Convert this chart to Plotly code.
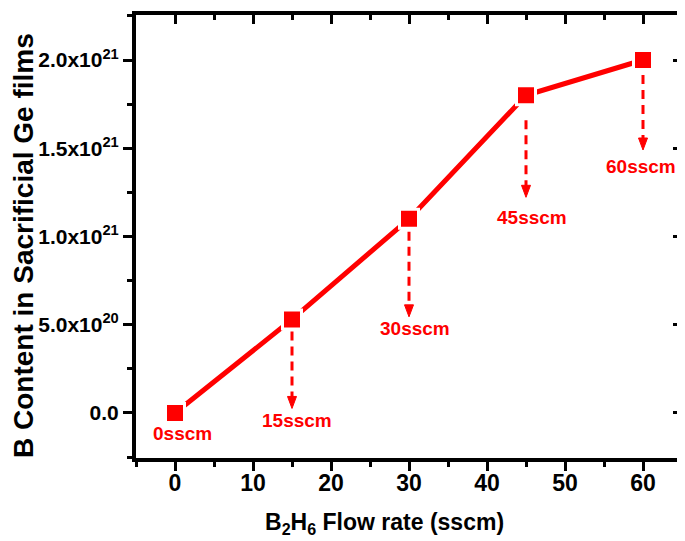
import plotly.graph_objects as go

# ---- data ----
flow_rate = [0, 15, 30, 45, 60]
b_content = [0.0, 5.3e20, 1.1e21, 1.8e21, 2.0e21]
point_labels = ["0sscm", "15sscm", "30sscm", "45sscm", "60sscm"]
x_ticks = [0, 10, 20, 30, 40, 50, 60]
y_tickvals = [0.0, 5.0e20, 1.0e21, 1.5e21, 2.0e21]
y_ticktext = ["0.0", "5.0x10<sup>20</sup>", "1.0x10<sup>21</sup>",
              "1.5x10<sup>21</sup>", "2.0x10<sup>21</sup>"]

# ---- style: pixel offsets of arrows / labels below each point ----
# (arrow start, arrow tip, label centre, label x shift)
label_style = [(None, None, 21, 7), (12, 89, 101, 5), (13, 98, 110, 6),
               (25, 102, 122, 6), (15, 90, 106, -2)]
HEAD_LEN, HEAD_HALF_W = 12, 4.5

RED = "#ff0000"
FONT = "Liberation Sans"

fig = go.Figure()
fig.add_trace(go.Scatter(
    x=flow_rate, y=b_content, mode="lines+markers",
    line=dict(color=RED, width=5),
    marker=dict(symbol="square", size=19, color=RED,
                line=dict(color="white", width=3)),
    showlegend=False, hoverinfo="skip"))
# invisible trace for mirror axes
fig.add_trace(go.Scatter(x=flow_rate, y=b_content, xaxis="x2", yaxis="y2",
                         mode="markers", marker=dict(opacity=0),
                         showlegend=False, hoverinfo="skip"))

shapes = []
annotations = []
for xv, yv, lab, (s0, tip, lc, dx) in zip(flow_rate, b_content, point_labels, label_style):
    if s0 is not None:
        shapes.append(dict(type="line", xref="x", yref="y", ysizemode="pixel",
                           yanchor=yv, x0=xv, x1=xv, y0=-s0, y1=-(tip - HEAD_LEN + 1),
                           line=dict(color=RED, width=3, dash="9px,6px")))
        base = -(tip - HEAD_LEN)
        shapes.append(dict(type="path", xref="x", yref="y",
                           xsizemode="pixel", ysizemode="pixel",
                           xanchor=xv, yanchor=yv,
                           path=f"M {-HEAD_HALF_W},{base} L {HEAD_HALF_W},{base} L 0,{-tip} Z",
                           fillcolor=RED, line=dict(color=RED, width=1)))
    annotations.append(dict(x=xv, y=yv, xref="x", yref="y", text=lab,
                            showarrow=False, xshift=dx, yshift=-lc,
                            xanchor="center", yanchor="middle",
                            font=dict(family=FONT, size=19, color=RED,
                                      weight="bold")))

annotations.append(dict(x=0.456, y=-0.147, xref="paper", yref="paper",
                        text="B<sub>2</sub>H<sub>6</sub> Flow rate (sscm)",
                        showarrow=False, xanchor="center", yanchor="middle",
                        font=dict(family=FONT, size=23, color="black", weight="bold")))
annotations.append(dict(x=0, y=0.4786, xref="paper", yref="paper", xshift=-112,
                        text="B Content in Sacrificial Ge films", textangle=-90,
                        showarrow=False, xanchor="center", yanchor="middle",
                        font=dict(family=FONT, size=28, color="black", weight="bold")))

axis_common = dict(showgrid=False, zeroline=False, showline=True, linecolor="black",
                   linewidth=4, tickcolor="black", tickwidth=3, ticklen=9)
xr = [-5, 65]
yr = [-2.55e20, 2.255e21]

fig.update_layout(
    width=685, height=541,
    margin=dict(l=128, r=11, t=7, b=91),
    plot_bgcolor="white", paper_bgcolor="white",
    xaxis=dict(range=xr, tickvals=x_ticks, ticks="outside", ticklabelstandoff=-8,
               minor=dict(dtick=5, tick0=0, ticks="outside", ticklen=5,
                          tickwidth=3, tickcolor="black"),
               tickfont=dict(family=FONT, size=23, color="black", weight="bold"),
               **axis_common),
    yaxis=dict(range=yr, tickvals=y_tickvals, ticktext=y_ticktext, ticks="outside",
               minor=dict(dtick=2.5e20, tick0=0, ticks="outside", ticklen=5,
                          tickwidth=3, tickcolor="black"),
               tickfont=dict(family=FONT, size=21, color="black", weight="bold"),
               **axis_common),
    xaxis2=dict(range=xr, overlaying="x", side="top", tickvals=x_ticks,
                ticks="inside", showticklabels=False,
                minor=dict(dtick=5, tick0=0, ticks="inside", ticklen=5,
                           tickwidth=3, tickcolor="black"),
                **axis_common),
    yaxis2=dict(range=yr, overlaying="y", side="right", tickvals=y_tickvals,
                ticks="inside", showticklabels=False,
                minor=dict(dtick=2.5e20, tick0=0, ticks="inside", ticklen=5,
                           tickwidth=3, tickcolor="black"),
                **axis_common),
    shapes=shapes, annotations=annotations,
)

fig.write_html("out.html")
